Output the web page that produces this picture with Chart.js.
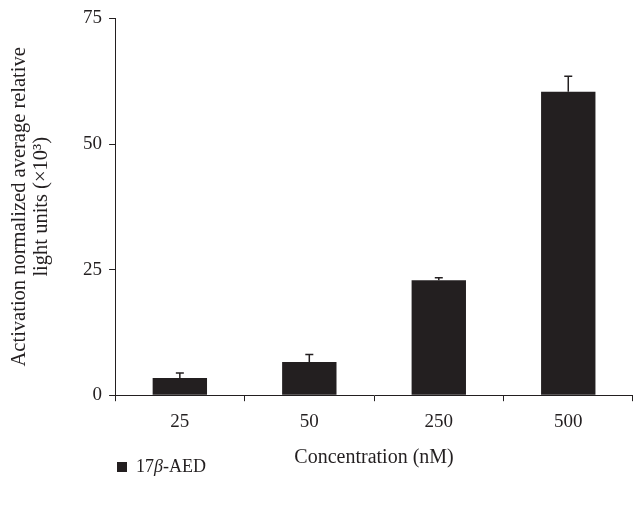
<!DOCTYPE html>
<html>
<head>
<meta charset="utf-8">
<script src="https://cdn.jsdelivr.net/npm/chart.js@4/dist/chart.umd.min.js"></script>
<style>
  body { margin: 0; background: #fff; }
  #wrap { position: relative; width: 633px; height: 507px; }
  #legend { position: absolute; left: 117px; top: 456px; font: 18px "Liberation Serif", serif; color: #231f20; }
  #legend span.box { display: inline-block; width: 10px; height: 10px; background: #231f20; margin-right: 9px; }
</style>
</head>
<body>
<div id="wrap">
  <canvas id="grafico" width="633" height="507"></canvas>
  <div id="legend"><span class="box"></span>17<i>β</i>-AED</div>
</div>
<script>
const categories = ["25", "50", "250", "500"];
const values = [3.4, 6.6, 22.9, 60.4];
const errors = [1.0, 1.5, 0.5, 3.1];
const yTicks = [0, 25, 50, 75];

const ink = "#231f20";
const serif = "'Liberation Serif', serif";

const errorBars = {
  id: "errorBars",
  afterDatasetsDraw(chart) {
    const ctx = chart.ctx;
    const y = chart.scales.y;
    const meta = chart.getDatasetMeta(0);
    ctx.save();
    ctx.strokeStyle = ink;
    ctx.lineWidth = 1.5;
    meta.data.forEach((bar, i) => {
      const top = y.getPixelForValue(values[i] + errors[i]);
      ctx.beginPath();
      ctx.moveTo(bar.x, bar.y);
      ctx.lineTo(bar.x, top);
      ctx.moveTo(bar.x - 4, top);
      ctx.lineTo(bar.x + 4, top);
      ctx.stroke();
    });
    ctx.restore();
  }
};

new Chart("grafico", {
  type: "bar",
  data: {
    labels: categories,
    datasets: [{
      label: "17β-AED",
      backgroundColor: ink,
      data: values,
      barPercentage: 0.42,
      categoryPercentage: 1
    }]
  },
  options: {
    responsive: false,
    animation: false,
    layout: { padding: { left: 4, right: 0, top: 12, bottom: 33 } },
    plugins: { legend: { display: false }, tooltip: { enabled: false } },
    scales: {
      x: {
        grid: { drawOnChartArea: false, tickLength: 6, color: ink, offset: true },
        border: { color: ink, width: 1 },
        ticks: { color: ink, font: { family: serif, size: 19 }, padding: 9 },
        title: { display: true, text: "Concentration (nM)", color: ink, font: { family: serif, size: 20 }, padding: { top: 4 } }
      },
      y: {
        min: 0,
        max: 75,
        afterBuildTicks(axis) { axis.ticks = yTicks.map(v => ({ value: v })); },
        grid: { drawOnChartArea: false, tickLength: 6, color: ink },
        border: { color: ink, width: 1 },
        ticks: { color: ink, font: { family: serif, size: 19 }, padding: 7 },
        title: {
          display: true,
          text: ["Activation normalized average relative", "light units (×10³)"],
          color: ink,
          font: { family: serif, size: 20.5, lineHeight: 1.1 },
          padding: { top: 4, bottom: 23 }
        }
      }
    }
  },
  plugins: [errorBars]
});
</script>
</body>
</html>
